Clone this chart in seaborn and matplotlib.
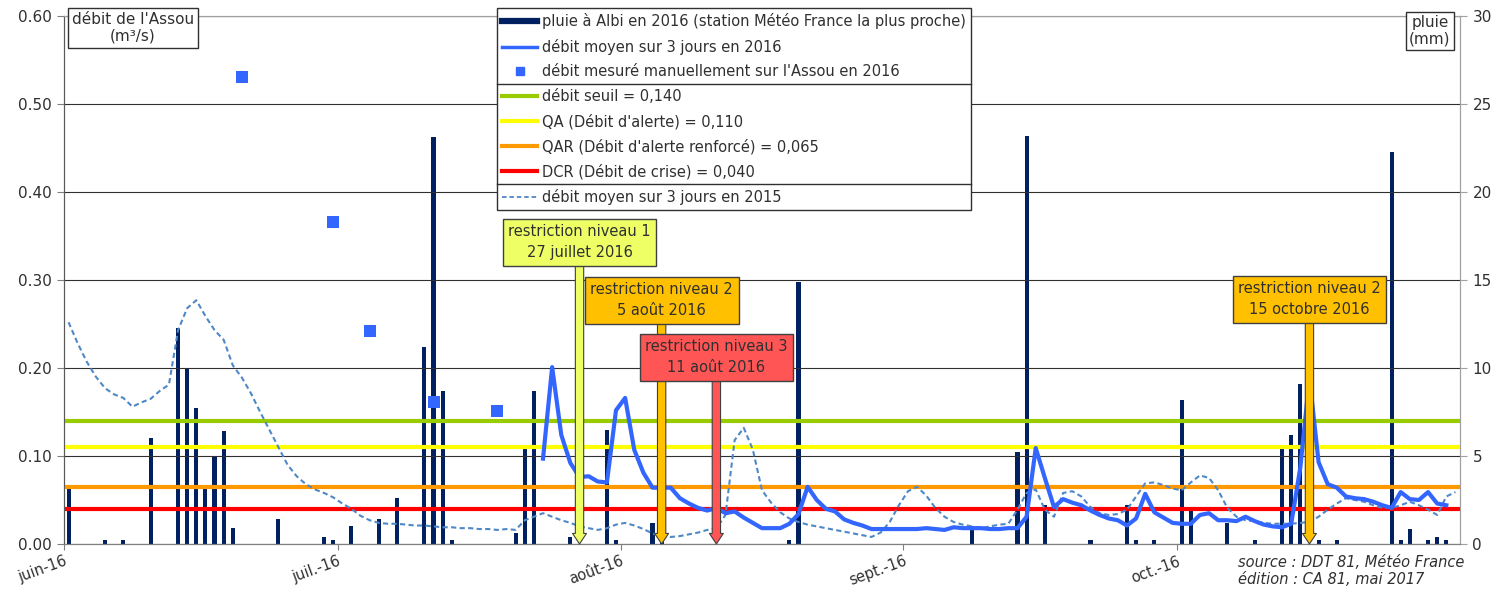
import matplotlib
matplotlib.use("Agg")
import matplotlib.dates as mdates
import matplotlib.pyplot as plt
import pandas as pd
import seaborn as sns
from matplotlib.lines import Line2D
from matplotlib.ticker import FixedLocator, FormatStrFormatter, MultipleLocator

# %%
# rain at Albi (mm), one bar per rainy day
rain_dates = [
    "2016-06-01", "2016-06-05", "2016-06-07", "2016-06-10", "2016-06-13", "2016-06-14",
    "2016-06-15", "2016-06-16", "2016-06-17", "2016-06-18", "2016-06-19", "2016-06-24",
    "2016-06-29", "2016-06-30", "2016-07-02", "2016-07-05", "2016-07-07", "2016-07-10",
    "2016-07-11", "2016-07-12", "2016-07-13", "2016-07-20", "2016-07-21", "2016-07-22",
    "2016-07-26", "2016-07-30", "2016-07-31", "2016-08-04", "2016-08-05", "2016-08-19",
    "2016-08-20", "2016-09-08", "2016-09-13", "2016-09-14", "2016-09-16", "2016-09-21",
    "2016-09-25", "2016-09-26", "2016-09-28", "2016-10-01", "2016-10-02", "2016-10-06",
    "2016-10-09", "2016-10-12", "2016-10-13", "2016-10-14", "2016-10-16", "2016-10-18",
    "2016-10-24", "2016-10-25", "2016-10-26", "2016-10-28", "2016-10-29", "2016-10-30",
]
rain_mm = [
    3.2, 0.2, 0.2, 6.0, 12.3, 10.0,
    7.7, 3.2, 5.0, 6.4, 0.9, 1.4,
    0.4, 0.2, 1.0, 1.4, 2.6, 11.2,
    23.1, 8.7, 0.2, 0.6, 5.5, 8.7,
    0.4, 6.5, 0.2, 1.2, 0.2, 0.2,
    14.9, 1.0, 5.2, 23.2, 2.2, 0.2,
    2.2, 0.2, 0.2, 8.2, 1.9, 1.2,
    0.2, 5.5, 6.2, 9.1, 0.2, 0.2,
    22.3, 0.2, 0.85, 0.2, 0.4, 0.2,
]

# 3-day mean flow 2016 (m3/s), daily from 23 July
flow_2016_start = "2016-07-23"
flow_2016 = [
    0.097, 0.201, 0.124, 0.092, 0.076, 0.077, 0.071, 0.070, 0.152, 0.166,
    0.107, 0.081, 0.064, 0.064, 0.064, 0.052, 0.046, 0.041, 0.038, 0.041,
    0.035, 0.037, 0.030, 0.024, 0.018, 0.018, 0.018, 0.023, 0.034, 0.065,
    0.050, 0.040, 0.037, 0.028, 0.024, 0.021, 0.017, 0.017, 0.017, 0.017,
    0.017, 0.017, 0.018, 0.017, 0.016, 0.019, 0.018, 0.018, 0.018, 0.017,
    0.017, 0.018, 0.018, 0.031, 0.109, 0.075, 0.042, 0.051, 0.047, 0.044,
    0.038, 0.033, 0.029, 0.027, 0.021, 0.029, 0.057, 0.036, 0.030, 0.024,
    0.023, 0.023, 0.033, 0.035, 0.027, 0.027, 0.026, 0.031, 0.026, 0.022,
    0.020, 0.019, 0.023, 0.087, 0.189, 0.093, 0.068, 0.064, 0.054, 0.052,
    0.051, 0.048, 0.044, 0.041, 0.059, 0.051, 0.050, 0.059, 0.046, 0.044,
]

# 3-day mean flow 2015 (m3/s), daily from 1 June
flow_2015_start = "2016-06-01"
flow_2015 = [
    0.252, 0.228, 0.207, 0.190, 0.177, 0.170, 0.166, 0.156, 0.161, 0.165,
    0.174, 0.181, 0.243, 0.268, 0.277, 0.259, 0.243, 0.232, 0.203, 0.189,
    0.171, 0.150, 0.130, 0.110, 0.090, 0.077, 0.068, 0.062, 0.058, 0.053,
    0.046, 0.040, 0.032, 0.027, 0.024, 0.023, 0.023, 0.022, 0.021, 0.021,
    0.020, 0.019, 0.019, 0.018, 0.018, 0.017, 0.017, 0.016, 0.017, 0.016,
    0.027, 0.031, 0.035, 0.031, 0.027, 0.024, 0.020, 0.018, 0.016, 0.018,
    0.022, 0.024, 0.021, 0.017, 0.012, 0.009, 0.008, 0.009, 0.011, 0.013,
    0.016, 0.018, 0.033, 0.118, 0.132, 0.107, 0.061, 0.047, 0.036, 0.029,
    0.025, 0.022, 0.020, 0.018, 0.016, 0.014, 0.012, 0.010, 0.008, 0.013,
    0.025, 0.044, 0.060, 0.065, 0.055, 0.041, 0.031, 0.025, 0.022, 0.020,
    0.018, 0.020, 0.022, 0.023, 0.039, 0.058, 0.062, 0.039, 0.031, 0.058,
    0.060, 0.054, 0.042, 0.035, 0.033, 0.034, 0.039, 0.054, 0.069, 0.070,
    0.067, 0.063, 0.061, 0.070, 0.078, 0.075, 0.061, 0.041, 0.031, 0.027,
    0.026, 0.024, 0.023, 0.023, 0.023, 0.024, 0.025, 0.031, 0.039, 0.046,
    0.052, 0.050, 0.048, 0.044, 0.041, 0.041, 0.044, 0.048, 0.044, 0.039,
    0.033, 0.054, 0.059,
]

# manual gaugings on the Assou
manual_dates = ["2016-06-20", "2016-06-30", "2016-07-04", "2016-07-11", "2016-07-18"]
manual_flow = [0.531, 0.366, 0.242, 0.161, 0.151]

thresholds = [0.140, 0.110, 0.065, 0.040]
threshold_labels = [
    "débit seuil = 0,140",
    "QA (Débit d'alerte) = 0,110",
    "QAR (Débit d'alerte renforcé) = 0,065",
    "DCR (Débit de crise) = 0,040",
]
threshold_colors = ["#99CC00", "#FFFF00", "#FF9900", "#FF0000"]

restriction_dates = ["2016-07-27", "2016-08-05", "2016-08-11", "2016-10-15"]
restriction_labels = [
    "restriction niveau 1\n27 juillet 2016",
    "restriction niveau 2\n5 août 2016",
    "restriction niveau 3\n11 août 2016",
    "restriction niveau 2\n15 octobre 2016",
]
restriction_colors = ["#EEFF66", "#FFC000", "#FF5555", "#FFC000"]
restriction_box_y = [0.343, 0.277, 0.212, 0.278]

month_ticks = ["2016-06-01", "2016-07-01", "2016-08-01", "2016-09-01", "2016-10-01"]
month_labels = ["juin-16", "juil.-16", "août-16", "sept.-16", "oct.-16"]

# %%
plt.rcParams["font.family"] = ["DejaVu Sans"]
text_color = "#303030"
half_day = 0.5


def day_num(dates):
    return mdates.date2num(pd.to_datetime(dates))


x_rain = day_num(rain_dates) + half_day
x_2016 = day_num(pd.date_range(flow_2016_start, periods=len(flow_2016))) + half_day
x_2015 = day_num(pd.date_range(flow_2015_start, periods=len(flow_2015))) + half_day
x_manual = day_num(manual_dates) + half_day

fig = plt.figure(figsize=(14.93, 5.89), dpi=100)
ax = fig.add_axes([64 / 1493, 1 - 544 / 589, 1396 / 1493, 528 / 589])
ax_rain = ax.twinx()
ax.set_zorder(ax_rain.get_zorder() + 1)
ax.patch.set_visible(False)
ax_rain.patch.set_facecolor("#F2F2F2")

# rain bars (right axis)
ax_rain.bar(x_rain, rain_mm, width=0.45, color="#002060", linewidth=0)
ax_rain.set_ylim(0, 30)
ax_rain.yaxis.set_major_locator(MultipleLocator(5))

# thresholds
for val, col in zip(thresholds, threshold_colors):
    ax.axhline(val, color=col, lw=3, zorder=2)

sns.lineplot(x=x_2015, y=flow_2015, ax=ax, color="#4F88C6", lw=1.5,
             linestyle=(0, (2.5, 1.6)), zorder=3)
sns.lineplot(x=x_2016, y=flow_2016, ax=ax, color="#3366FF", lw=3, zorder=4)
sns.scatterplot(x=x_manual, y=manual_flow, ax=ax, color="#3366FF", marker="s",
                s=75, linewidth=0, zorder=5)

ax.set_ylim(0, 0.6)
ax.set_xlim(day_num(["2016-06-01"])[0], day_num(["2016-11-01"])[0])
ax.yaxis.set_major_locator(MultipleLocator(0.1))
ax.yaxis.set_major_formatter(FormatStrFormatter("%.2f"))
ax.set_axisbelow(True)
ax.grid(axis="y", color="#303030", lw=0.8)
ax.grid(axis="x", visible=False)
ax.set_xlabel("")
ax.set_ylabel("")

ax.xaxis.set_major_locator(FixedLocator(day_num(month_ticks)))
ax.set_xticklabels(month_labels, rotation=20, ha="right", rotation_mode="anchor")
ax.tick_params(axis="x", length=4, color="#808080", labelsize=10.5, labelcolor=text_color, pad=3)
ax.tick_params(axis="y", length=5, color="#808080", labelsize=11, labelcolor=text_color, pad=4)
ax_rain.tick_params(axis="y", length=5, color="#a0a0a0", labelsize=11, labelcolor=text_color, pad=4)

for a in (ax, ax_rain):
    a.spines["top"].set_color("#a0a0a0")
    a.spines["bottom"].set_color("#808080")
    a.spines["left"].set_color("#595959")
    a.spines["right"].set_color("#a0a0a0")

# restriction annotations
for d, lab, col, yb in zip(restriction_dates, restriction_labels, restriction_colors, restriction_box_y):
    xd = day_num([d])[0] + half_day
    ax.annotate(
        lab, xy=(xd, 0), xytext=(xd, yb), ha="center", va="center",
        fontsize=10.5, color=text_color, zorder=10, linespacing=1.5,
        bbox=dict(boxstyle="square,pad=0.38", fc=col, ec="#404040", lw=1),
        arrowprops=dict(arrowstyle="simple,head_length=0.38,head_width=0.5,tail_width=0.3",
                        mutation_scale=20, fc=col, ec="#404040", lw=0.8,
                        shrinkA=0, shrinkB=0),
    )

# axis title boxes
fig.text(133 / 1493, 1 - 28 / 589, "débit de l'Assou\n(m³/s)", ha="center", va="center",
         fontsize=11, color=text_color, linespacing=1.1,
         bbox=dict(boxstyle="square,pad=0.28", fc="white", ec="#303030", lw=1))
fig.text(1430 / 1493, 1 - 31 / 589, "pluie\n(mm)", ha="center", va="center",
         fontsize=11, color=text_color, linespacing=1.1,
         bbox=dict(boxstyle="square,pad=0.2", fc="white", ec="#303030", lw=1))

fig.text(1238 / 1493, 1 - 571 / 589, "source : DDT 81, Météo France\nédition : CA 81, mai 2017",
         ha="left", va="center", fontsize=10.5, style="italic", color=text_color, linespacing=1.2)

# legend
handles = [
    Line2D([], [], color="#002060", lw=4.5),
    Line2D([], [], color="#3366FF", lw=2.5),
    Line2D([], [], color="#3366FF", marker="s", ms=6, ls="none"),
]
handles += [Line2D([], [], color=c, lw=3) for c in threshold_colors]
handles.append(Line2D([], [], color="#4F88C6", lw=1.3, ls=(0, (2.5, 1.6))))
labels = [
    "pluie à Albi en 2016 (station Météo France la plus proche)",
    "débit moyen sur 3 jours en 2016",
    "débit mesuré manuellement sur l'Assou en 2016",
] + threshold_labels + ["débit moyen sur 3 jours en 2015"]

leg = fig.legend(handles, labels, loc="upper left", bbox_to_anchor=(497 / 1493, 1 - 8 / 589),
                 fontsize=10.5, frameon=True, fancybox=False, framealpha=1,
                 edgecolor="#303030", borderaxespad=0, handlelength=2.4, handletextpad=0.35,
                 labelspacing=0.66, borderpad=0.35, labelcolor=text_color)
leg.get_frame().set_linewidth(1)
leg.set_zorder(20)

fig.canvas.draw()
frame_bb = leg.get_frame().get_window_extent()
texts = leg.get_texts()
inv = fig.transFigure.inverted()
for i in (2, 6):
    y_sep = (texts[i].get_window_extent().y0 + texts[i + 1].get_window_extent().y1) / 2
    (fx0, fy), (fx1, _) = inv.transform([(frame_bb.x0, y_sep), (frame_bb.x1, y_sep)])
    fig.add_artist(Line2D([fx0, fx1], [fy, fy], color="#303030", lw=1, zorder=21))

fig.savefig("out.png", dpi=100, facecolor="white")
